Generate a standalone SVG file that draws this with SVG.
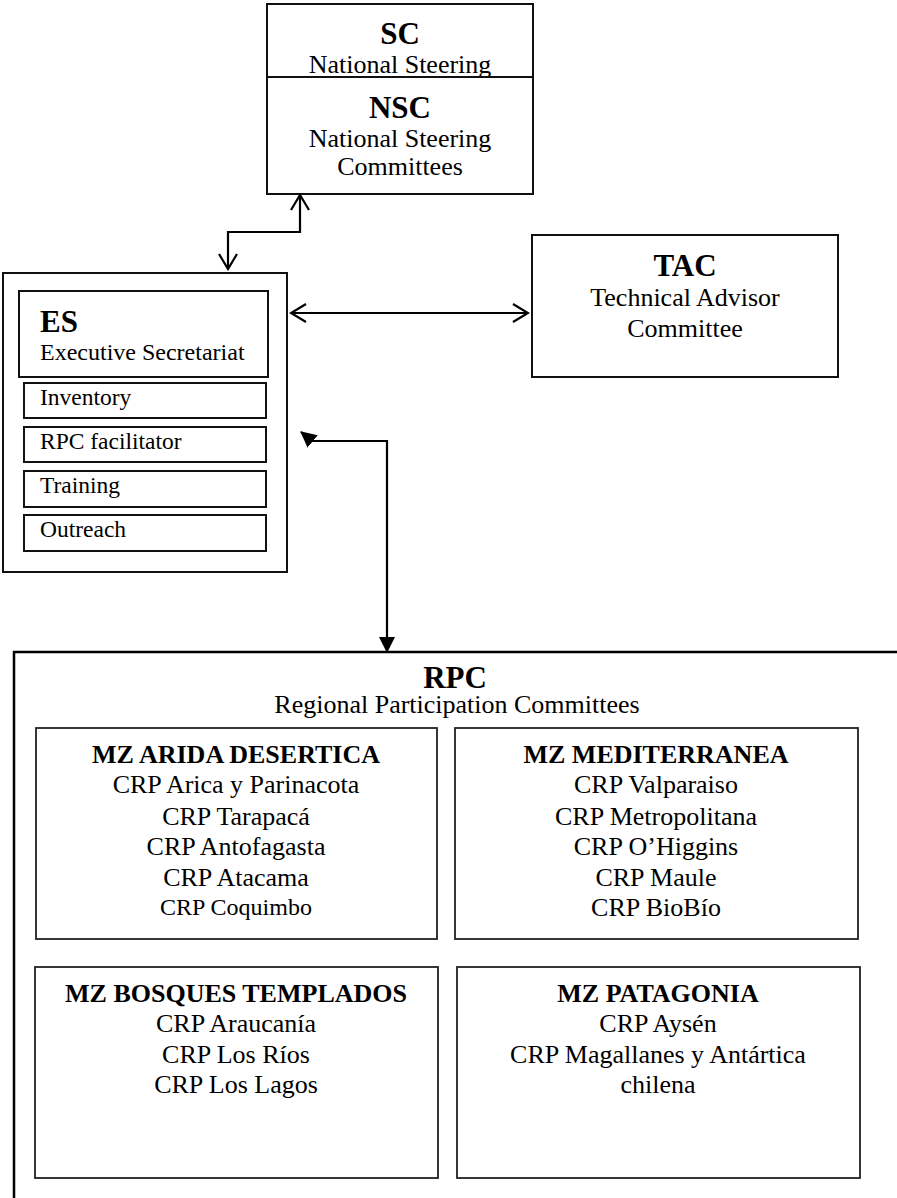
<svg xmlns="http://www.w3.org/2000/svg" width="897" height="1198" viewBox="0 0 897 1198">
<style>
text{font-family:"Liberation Serif","Times New Roman",serif;fill:#000}
.t{font-size:31px;font-weight:bold;text-anchor:middle}
.s{font-size:26px;text-anchor:middle}
.mz{font-size:26px;font-weight:bold;text-anchor:middle}
.l{font-size:23.5px}
.box{fill:#fff;stroke:#111;stroke-width:2}
.thin{fill:#fff;stroke:#222;stroke-width:1.8}
.con{fill:none;stroke:#000;stroke-width:2.2}
</style>
<defs>
<marker id="open" viewBox="0 0 20 20" refX="18" refY="10" markerWidth="20" markerHeight="20" markerUnits="userSpaceOnUse" orient="auto-start-reverse">
<path d="M3,1 L18,10 L3,19" fill="none" stroke="#000" stroke-width="2.2"/>
</marker>
<marker id="solid" viewBox="0 0 16 16" refX="15" refY="8" markerWidth="16" markerHeight="16" markerUnits="userSpaceOnUse" orient="auto-start-reverse">
<path d="M0,0 L16,8 L0,16 z" fill="#000"/>
</marker>
<clipPath id="scclip"><rect x="267" y="4" width="266" height="73"/></clipPath>
</defs>

<g id="SC">
<rect class="box" x="267" y="4" width="266" height="73"/>
<g clip-path="url(#scclip)">
<text class="t" x="400" y="44">SC</text>
<text class="s" x="400" y="73">National Steering</text>
</g>
</g>

<g id="NSC">
<rect class="box" x="267" y="77" width="266" height="117"/>
<text class="t" x="400" y="118">NSC</text>
<text class="s" x="400" y="147">National Steering</text>
<text class="s" x="400" y="175">Committees</text>
</g>

<g id="ES">
<rect class="box" x="3" y="273" width="284" height="299"/>
<rect class="box" x="19" y="291" width="249" height="86"/>
<text x="40" y="332" style="font-size:31px;font-weight:bold">ES</text>
<text x="40" y="360" style="font-size:24px">Executive Secretariat</text>
</g>
<g id="Inventory">
<rect class="box" x="24" y="383" width="242" height="35"/>
<text class="l" x="40" y="405">Inventory</text>
</g>
<g id="RPCfacilitator">
<rect class="box" x="24" y="427" width="242" height="35"/>
<text class="l" x="40" y="449">RPC facilitator</text>
</g>
<g id="Training">
<rect class="box" x="24" y="471" width="242" height="36"/>
<text class="l" x="40" y="493">Training</text>
</g>
<g id="Outreach">
<rect class="box" x="24" y="515" width="242" height="36"/>
<text class="l" x="40" y="537">Outreach</text>
</g>

<g id="TAC">
<rect class="box" x="532" y="235" width="306" height="142"/>
<text class="t" x="685" y="276">TAC</text>
<text class="s" x="685" y="306">Technical Advisor</text>
<text class="s" x="685" y="337">Committee</text>
</g>

<g id="RPC">
<rect x="14" y="652" width="920" height="600" fill="#fff" stroke="#000" stroke-width="2.5"/>
<text class="t" x="455" y="688">RPC</text>
<text class="s" x="457" y="713">Regional Participation Committees</text>
</g>

<g id="MZ_ARIDA">
<rect class="thin" x="36" y="728" width="401" height="211"/>
<text class="mz" x="236" y="763">MZ ARIDA DESERTICA</text>
<text class="s" x="236" y="793">CRP Arica y Parinacota</text>
<text class="s" x="236" y="825">CRP Tarapacá</text>
<text class="s" x="236" y="855">CRP Antofagasta</text>
<text class="s" x="236" y="886">CRP Atacama</text>
<text class="s" x="236" y="915" style="font-size:24px">CRP Coquimbo</text>
</g>

<g id="MZ_MEDITERRANEA">
<rect class="thin" x="455" y="728" width="403" height="211"/>
<text class="mz" x="656" y="763">MZ MEDITERRANEA</text>
<text class="s" x="656" y="793">CRP Valparaiso</text>
<text class="s" x="656" y="825">CRP Metropolitana</text>
<text class="s" x="656" y="855">CRP O’Higgins</text>
<text class="s" x="656" y="886">CRP Maule</text>
<text class="s" x="656" y="916">CRP BioBío</text>
</g>

<g id="MZ_BOSQUES">
<rect class="thin" x="35" y="967" width="403" height="211"/>
<text class="mz" x="236" y="1002">MZ BOSQUES TEMPLADOS</text>
<text class="s" x="236" y="1032">CRP Araucanía</text>
<text class="s" x="236" y="1063">CRP Los Ríos</text>
<text class="s" x="236" y="1093">CRP Los Lagos</text>
</g>

<g id="MZ_PATAGONIA">
<rect class="thin" x="457" y="967" width="403" height="211"/>
<text class="mz" x="658" y="1002">MZ PATAGONIA</text>
<text class="s" x="658" y="1032">CRP Aysén</text>
<text class="s" x="658" y="1063">CRP Magallanes y Antártica</text>
<text class="s" x="658" y="1093">chilena</text>
</g>

<g id="connectors">
<path class="con" d="M300,195 V232 H228 V269" marker-start="url(#open)" marker-end="url(#open)"/>
<path class="con" d="M291,313 H528" marker-start="url(#open)" marker-end="url(#open)"/>
<path class="con" d="M387,652 V441 H312 L301,432" marker-start="url(#solid)" marker-end="url(#solid)"/>
</g>
</svg>
